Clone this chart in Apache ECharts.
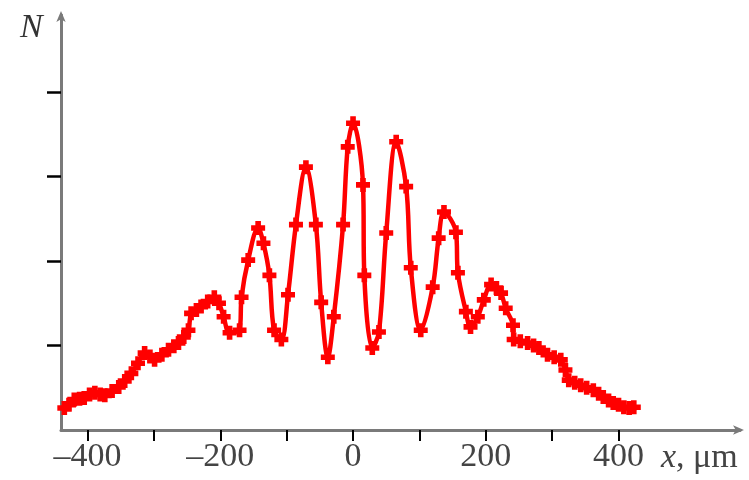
<!DOCTYPE html>
<html>
<head>
<meta charset="utf-8">
<script src="https://cdn.jsdelivr.net/npm/echarts@6/dist/echarts.min.js"></script>
<style>
	html, body {margin: 0; padding: 0; background: #fff;}
	#chart {width: 749px; height: 480px;}
</style>
</head>
<body>
<div id="chart"></div>
<script>
// координаты x, мкм
var xPos = [-435, -428, -420, -412, -405, -397, -389, -381, -374, -363, -353, -344, -334, -324, -314, -306, -299, -288, -278, -270,
	-263, -255, -248, -244, -236, -229, -219, -209, -202, -195, -186, -171, -168, -158, -143, -135, -126, -119, -108, -98,
	-86, -71, -56, -48, -38, -29, -15, -8, 0, 15, 17, 29, 39, 50, 65, 80, 87, 102, 120, 129,
	137, 155, 158, 170, 177, 188, 197, 208, 216, 223, 230, 241, 242, 252, 263, 272, 280, 293, 303, 313,
	320, 325, 334, 343, 352, 362, 370, 377, 385, 392, 400, 408, 416, 423];
// число N
var nVal = [0.26, 0.30, 0.36, 0.37, 0.38, 0.42, 0.44, 0.42, 0.41, 0.46, 0.51, 0.58, 0.67, 0.79, 0.91, 0.87, 0.83, 0.89, 0.95, 0.99,
	1.03, 1.10, 1.18, 1.38, 1.42, 1.46, 1.52, 1.57, 1.50, 1.34, 1.15, 1.18, 1.57, 2.01, 2.39, 2.21, 1.83, 1.18, 1.07, 1.60,
	2.43, 3.11, 2.43, 1.51, 0.86, 1.34, 2.43, 3.35, 3.63, 2.90, 1.83, 0.97, 1.16, 2.33, 3.41, 2.88, 1.92, 1.18, 1.69, 2.27,
	2.58, 2.34, 1.86, 1.40, 1.22, 1.34, 1.54, 1.72, 1.68, 1.62, 1.44, 1.24, 1.07, 1.05, 1.03, 1.00, 0.97, 0.89, 0.86, 0.83,
	0.71, 0.59, 0.56, 0.53, 0.50, 0.47, 0.43, 0.39, 0.35, 0.32, 0.30, 0.27, 0.26, 0.27];
var xTicks = [-400, -300, -200, -100, 0, 100, 200, 300, 400];
var xLabels = [-400, -200, 0, 200, 400];
var yTicks = [1, 2, 3, 4];

var points = [];
for (var i = 0; i < xPos.length; i++) {
	points.push([xPos[i], nVal[i]]);
}

var option = {
	animation: false,
	grid: {left: 61, right: 9, top: 15, bottom: 50},
	xAxis: {
		type: 'value',
		min: -440,
		max: 583,
		splitLine: {show: false},
		axisLine: {
			onZero: false,
			symbol: ['none', 'arrow'],
			symbolSize: [7, 11],
			symbolOffset: [0, 4],
			lineStyle: {color: '#7a7a7a', width: 3}
		},
		axisTick: {
			customValues: xTicks,
			length: 11,
			lineStyle: {color: '#000', width: 2}
		},
		axisLabel: {
			customValues: xLabels,
			margin: 10,
			color: '#444',
			fontFamily: 'Liberation Serif',
			fontSize: 34,
			formatter: function (v) {
				return (v + '').replace('-', '–');
			}
		}
	},
	yAxis: {
		type: 'value',
		min: 0,
		max: 4.91,
		splitLine: {show: false},
		axisLine: {
			onZero: false,
			symbol: ['none', 'arrow'],
			symbolSize: [7, 11],
			symbolOffset: [0, 4],
			lineStyle: {color: '#7a7a7a', width: 3}
		},
		axisTick: {
			customValues: yTicks,
			length: 14,
			lineStyle: {color: '#000', width: 2.5}
		},
		axisLabel: {show: false}
	},
	graphic: [
		{
			type: 'text',
			left: 20,
			top: 11,
			style: {text: 'N', font: 'italic 34px "Liberation Serif"', fill: '#333'}
		},
		{
			type: 'text',
			left: 661,
			top: 441,
			style: {
				text: '{i|x}, μm',
				font: '34px "Liberation Serif"',
				fill: '#444',
				rich: {i: {fontStyle: 'italic', fontFamily: 'Liberation Serif', fontSize: 34, color: '#444'}}
			}
		}
	],
	series: [{
		type: 'line',
		data: points,
		smooth: 0.35,
		symbol: 'path://M3,0 H7 V3 H10 V7 H7 V10 H3 V7 H0 V3 H3 Z',
		symbolSize: 14,
		itemStyle: {color: '#ff0000'},
		lineStyle: {color: '#ff0000', width: 4.5}
	}]
};

var chart = echarts.init(document.getElementById('chart'));
chart.setOption(option);
</script>
</body>
</html>
